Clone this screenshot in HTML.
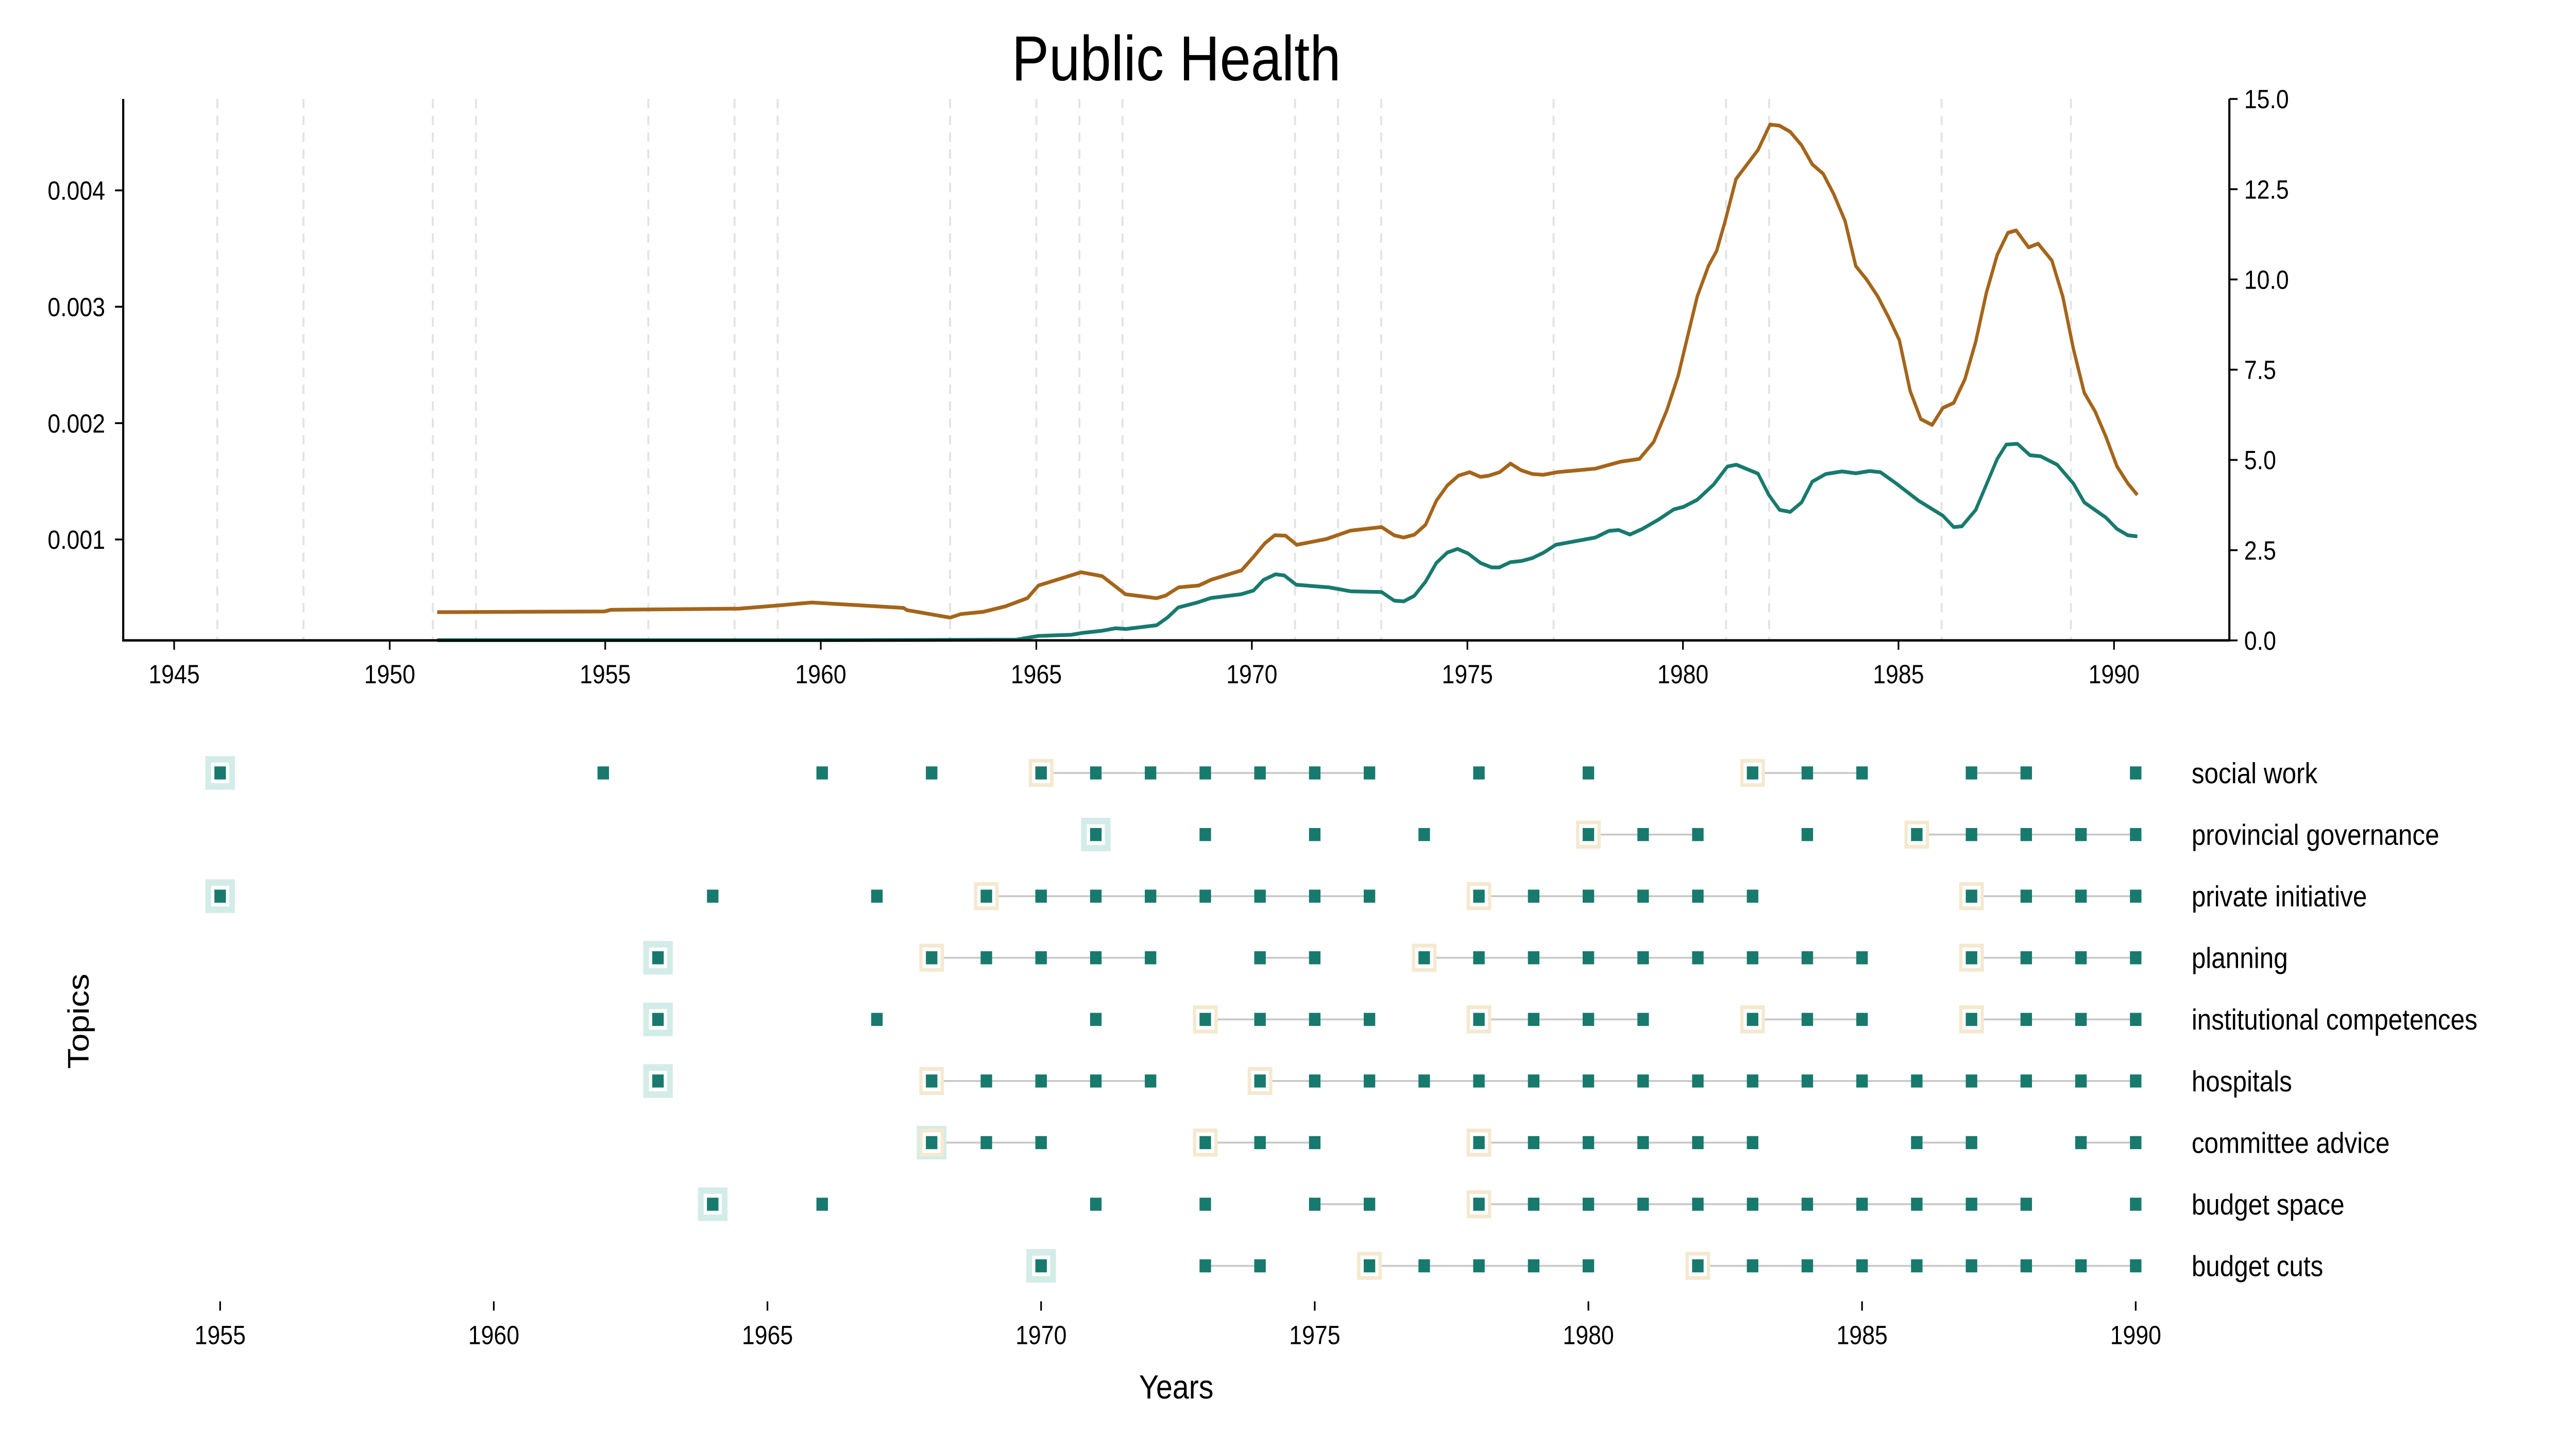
<!DOCTYPE html>
<html><head><meta charset="utf-8"><style>
html,body{margin:0;padding:0;background:#fff;overflow:hidden;width:100vw;height:100vh;}
svg{display:block;font-family:"Liberation Sans",sans-serif;width:100vw;height:100vh;}
</style></head><body>
<svg id="chart" viewBox="0 0 1568 767" preserveAspectRatio="none" xmlns="http://www.w3.org/2000/svg">
<rect width="1568" height="767" fill="#fff"/>
<text x="716" y="43" font-size="34" text-anchor="middle" fill="#000">Public Health</text>
<g id="topg"></g>
<g id="bottomg"></g>
<text x="716" y="749" font-size="18" text-anchor="middle">Years</text>
<text x="0" y="0" font-size="18" text-anchor="middle" transform="translate(54,547) rotate(-90)">Topics</text>
</svg>
<script>
const orangeYears=[1951.1,1954.98,1955.14,1958.11,1959.06,1959.79,1961.92,1962.0,1963.0,1963.25,1963.77,1964.28,1964.79,1965.05,1966.04,1966.53,1967.07,1967.79,1968.0,1968.3,1968.77,1969.06,1969.76,1970.04,1970.3,1970.53,1970.78,1971.04,1971.73,1972.29,1973.01,1973.3,1973.52,1973.77,1974.03,1974.28,1974.53,1974.79,1975.05,1975.3,1975.49,1975.75,1976.0,1976.25,1976.51,1976.76,1977.09,1977.97,1978.55,1978.99,1979.32,1979.63,1979.89,1980.08,1980.33,1980.59,1980.78,1980.98,1981.23,1981.74,1982.02,1982.24,1982.49,1982.75,1983.0,1983.25,1983.5,1983.76,1984.01,1984.26,1984.52,1984.77,1985.02,1985.27,1985.52,1985.78,1986.03,1986.28,1986.54,1986.79,1987.04,1987.29,1987.54,1987.73,1988.02,1988.24,1988.56,1988.81,1989.06,1989.31,1989.56,1989.81,1990.07,1990.32,1990.54];
const orangeValues=[0.78,0.80,0.85,0.88,0.97,1.05,0.9,0.84,0.63,0.73,0.79,0.94,1.17,1.52,1.89,1.78,1.28,1.17,1.24,1.47,1.52,1.68,1.94,2.31,2.69,2.91,2.90,2.65,2.81,3.04,3.14,2.91,2.85,2.93,3.20,3.87,4.29,4.56,4.66,4.53,4.56,4.66,4.90,4.71,4.61,4.59,4.66,4.76,4.95,5.03,5.50,6.39,7.33,8.28,9.53,10.37,10.79,11.62,12.78,13.59,14.29,14.26,14.09,13.72,13.19,12.93,12.36,11.62,10.37,10.0,9.53,8.95,8.32,6.91,6.13,5.97,6.44,6.58,7.23,8.27,9.63,10.68,11.29,11.36,10.89,10.99,10.52,9.53,8.07,6.86,6.34,5.65,4.82,4.35,4.03];
const tealYears=[1951.1,1960,1962.0,1964.54,1965.05,1965.81,1966.07,1966.51,1966.84,1967.08,1967.79,1968.04,1968.29,1968.74,1969.05,1969.75,1970.04,1970.27,1970.55,1970.75,1971.03,1971.79,1972.29,1973.01,1973.3,1973.52,1973.77,1974.03,1974.28,1974.53,1974.77,1975.01,1975.3,1975.56,1975.74,1976.0,1976.25,1976.51,1976.77,1977.05,1977.97,1978.29,1978.51,1978.77,1979.06,1979.44,1979.79,1980.01,1980.33,1980.71,1981.03,1981.24,1981.74,1981.99,1982.24,1982.49,1982.75,1983.0,1983.31,1983.69,1984.01,1984.33,1984.58,1984.95,1985.46,1986.03,1986.28,1986.47,1986.79,1987.29,1987.5,1987.76,1988.05,1988.3,1988.68,1989.06,1989.31,1989.81,1990.07,1990.32,1990.54];
const tealValues=[0.134,0.135,0.136,0.14,0.172,0.181,0.197,0.215,0.237,0.231,0.263,0.329,0.416,0.459,0.497,0.529,0.562,0.653,0.701,0.691,0.611,0.589,0.555,0.549,0.475,0.468,0.517,0.637,0.799,0.887,0.919,0.881,0.799,0.76,0.76,0.805,0.815,0.841,0.887,0.955,1.017,1.075,1.081,1.043,1.091,1.173,1.259,1.28,1.341,1.471,1.627,1.643,1.566,1.385,1.255,1.237,1.319,1.497,1.563,1.585,1.569,1.588,1.579,1.481,1.335,1.205,1.107,1.113,1.255,1.693,1.816,1.823,1.725,1.715,1.643,1.481,1.319,1.189,1.091,1.036,1.027];
const eventYears=[1946,1948,1951,1952,1956,1958,1959,1963,1965,1966,1967,1971,1972,1973,1977,1981,1982,1986,1989];
const topXTicks=[1945,1950,1955,1960,1965,1970,1975,1980,1985,1990];
const leftTicks=[0.001,0.002,0.003,0.004];
const leftTickLabels=["0.001","0.002","0.003","0.004"];
const rightTicks=[0,2.5,5,7.5,10,12.5,15];
const rightTickLabels=["0.0","2.5","5.0","7.5","10.0","12.5","15.0"];
const topics=["social work","provincial governance","private initiative","planning","institutional competences","hospitals","committee advice","budget space","budget cuts"];
const topicYears=[
[1955,1962,1966,1968,1970,1971,1972,1973,1974,1975,1976,1978,1980,1983,1984,1985,1987,1988,1990],
[1971,1973,1975,1977,1980,1981,1982,1984,1986,1987,1988,1989,1990],
[1955,1964,1967,1969,1970,1971,1972,1973,1974,1975,1976,1978,1979,1980,1981,1982,1983,1987,1988,1989,1990],
[1963,1968,1969,1970,1971,1972,1974,1975,1977,1978,1979,1980,1981,1982,1983,1984,1985,1987,1988,1989,1990],
[1963,1967,1971,1973,1974,1975,1976,1978,1979,1980,1981,1983,1984,1985,1987,1988,1989,1990],
[1963,1968,1969,1970,1971,1972,1974,1975,1976,1977,1978,1979,1980,1981,1982,1983,1984,1985,1986,1987,1988,1989,1990],
[1968,1969,1970,1973,1974,1975,1978,1979,1980,1981,1982,1983,1986,1987,1989,1990],
[1964,1966,1971,1973,1975,1976,1978,1979,1980,1981,1982,1983,1984,1985,1986,1987,1988,1990],
[1970,1973,1974,1976,1977,1978,1979,1980,1982,1983,1984,1985,1986,1987,1988,1989,1990]];
const topicFirst=[1955,1971,1955,1963,1963,1963,1968,1964,1970];
const topicFrames=[[1970,1983],[1980,1986],[1969,1978,1987],[1968,1977,1987],[1973,1978,1983,1987],[1968,1974],[1968,1973,1978],[1978],[1976,1982]];
const bottomXTicks=[1955,1960,1965,1970,1975,1980,1985,1990];

const NS="http://www.w3.org/2000/svg";
function mk(tag,attrs,parent){const e=document.createElementNS(NS,tag);for(const k in attrs)e.setAttribute(k,attrs[k]);parent.appendChild(e);return e;}
const gTop=document.getElementById('topg'), gBot=document.getElementById('bottomg');
const tx=y=>106+(y-1945)*26.24;
const ly=v=>351.3-v*62330;
const ry=v=>343-v*19.333;
eventYears.forEach(y=>{const l=mk('line',{x1:tx(y),x2:tx(y),y1:53,y2:343,stroke:'#e3e3e3','stroke-width':1.2,'stroke-dasharray':'5,4'},gTop);

});
let d='';orangeYears.forEach((y,i)=>{d+=(i?'L':'M')+tx(y).toFixed(1)+','+ry(orangeValues[i]).toFixed(1);});
const po=mk('path',{d:d,fill:'none',stroke:'#a4651a','stroke-width':2,'stroke-linejoin':'round'},gTop);


d='';tealYears.forEach((y,i)=>{d+=(i?'L':'M')+tx(y).toFixed(1)+','+ly(tealValues[i]/1000).toFixed(1);});
const pt=mk('path',{d:d,fill:'none',stroke:'#177a6d','stroke-width':2,'stroke-linejoin':'round'},gTop);


const ax=mk('path',{d:'M75,53V343H1357V53',fill:'none',stroke:'#000','stroke-width':1.3},gTop);


topXTicks.forEach(y=>{mk('line',{x1:tx(y),x2:tx(y),y1:343,y2:348,stroke:'#000','stroke-width':1},gTop);
const t=mk('text',{x:tx(y),y:366,'font-size':14,'text-anchor':'middle'},gTop);t.textContent=y;

});
leftTicks.forEach((v,i)=>{mk('line',{x1:70,x2:75,y1:ly(v),y2:ly(v),stroke:'#000','stroke-width':1},gTop);
const t=mk('text',{x:64,y:ly(v)+5,'font-size':14,'text-anchor':'end'},gTop);t.textContent=leftTickLabels[i];

});
rightTicks.forEach((v,i)=>{mk('line',{x1:1357,x2:1362,y1:ry(v),y2:ry(v),stroke:'#000','stroke-width':1},gTop);
const t=mk('text',{x:1366,y:ry(v)+5,'font-size':14},gTop);t.textContent=rightTickLabels[i];

});
const bx=y=>134+(y-1955)*33.314;
const rowY=i=>414+i*33;
topics.forEach((name,i)=>{
 const yy=rowY(i), ys=topicYears[i];
 for(let j=1;j<ys.length;j++){ if(ys[j]-ys[j-1]===1){const l=mk('line',{x1:bx(ys[j-1]),x2:bx(ys[j]),y1:yy,y2:yy,stroke:'#c8c8c8','stroke-width':1},gBot);
  
  }}
 const f=mk('rect',{x:bx(topicFirst[i])-9,y:yy-9,width:18,height:18,fill:'#d3ece7'},gBot);
 
 
 topicFrames[i].forEach(fy=>{const r=mk('rect',{x:bx(fy)-6.5,y:yy-6.5,width:13,height:13,fill:'#fff',stroke:'#f4e9cf','stroke-width':2},gBot);
  
  });
 if(topicFrames[i].indexOf(topicFirst[i])<0){const w=mk('rect',{x:bx(topicFirst[i])-5.5,y:yy-5.5,width:11,height:11,fill:'#fff'},gBot);
  
  }
 ys.forEach(y=>{const m=mk('rect',{x:bx(y)-3.5,y:yy-3.5,width:7,height:7,fill:'#177a6d'},gBot);
  
  });
 const t=mk('text',{x:1334,y:yy+5.5,'font-size':15.5},gBot);t.textContent=name;
 
 
});
bottomXTicks.forEach(y=>{mk('line',{x1:bx(y),x2:bx(y),y1:697,y2:702,stroke:'#000','stroke-width':1},gBot);
const t=mk('text',{x:bx(y),y:720,'font-size':14,'text-anchor':'middle'},gBot);t.textContent=y;

});
</script>
</body></html>
